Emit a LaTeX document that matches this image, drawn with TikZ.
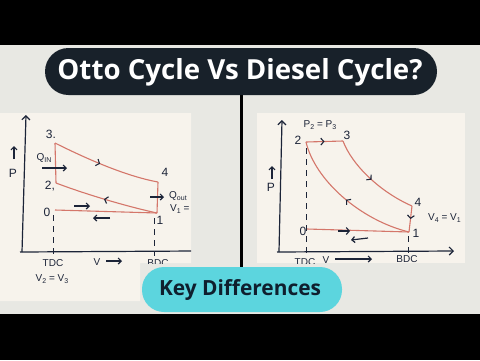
\documentclass[tikz,border=0pt]{standalone}
\usepackage{graphicx}
\usepackage{fontspec}
\setmainfont{Open Sans}
\newfontfamily\hand{Liberation Sans}
\usetikzlibrary{decorations.markings,arrows.meta}
\definecolor{bggray}{HTML}{E8E8E3}
\definecolor{paper}{HTML}{F7F3EC}
\definecolor{titlebg}{HTML}{18212A}
\definecolor{cyanpill}{HTML}{5CD5DE}
\definecolor{keytext}{HTML}{0F1F2E}
\definecolor{redline}{HTML}{D4766A}
\definecolor{ink}{HTML}{1C2438}
\newcommand\sbs[1]{\raisebox{-0.35ex}{\scalebox{0.7}{#1}}}
\tikzset{
  cyc/.style={draw=redline, line width=1.1pt},
  axisline/.style={draw=ink, line width=1.2pt},
  dashline/.style={draw=ink, line width=1pt, dash pattern=on 6pt off 5pt},
  lbl/.style={text=ink, font=\hand\fontsize{12}{12}\selectfont, inner sep=0pt},
  smlbl/.style={text=ink, font=\hand\fontsize{10}{10}\selectfont, inner sep=0pt},
  inkarrow/.style={draw=ink, line width=1.2pt, -{Straight Barb[length=3pt,width=6pt]}},
  midmark/.style={postaction={decorate, decoration={markings, mark=at position #1 with {\arrow[ink, line width=1.1pt]{Straight Barb[length=3pt,width=7pt]}}}}},
  midmarkrev/.style={postaction={decorate, decoration={markings, mark=at position #1 with {\arrowreversed[ink, line width=1.1pt]{Straight Barb[length=3pt,width=7pt]}}}}}
}
\begin{document}
\begin{tikzpicture}[x=1pt,y=-1pt]
\useasboundingbox (0,0) rectangle (480,360);
% backgrounds
\fill[bggray] (0,0) rectangle (480,360);
\fill[black] (0,0) rectangle (480,44.5);
\fill[black] (0,314) rectangle (480,360);
% left paper
\fill[paper] (0,113) -- (191,113) -- (191,263) -- (140,263) -- (140,301) -- (0,301) -- cycle;
% right paper
\fill[paper] (257,113) rectangle (465,263);
% divider
\draw[black, line width=3pt] (241,95) -- (241,268);

% ================= LEFT (Otto) =================
\begin{scope}
\clip (0,113) -- (191,113) -- (191,263) -- (140,263) -- (140,301) -- (0,301) -- cycle;
\coordinate (L3) at (55,143);
\coordinate (L2) at (56,183);
\coordinate (L0) at (55,210);
\coordinate (L1) at (157,213);
\coordinate (L4) at (158,182);
\coordinate (LO) at (22,252);
\coordinate (LYT) at (26,115);
\coordinate (LXE) at (195,251);
\draw[axisline, -{Straight Barb[length=4pt,width=8pt]}] (LO) -- (LYT);
\draw[axisline] ([xshift=-2pt]LO) -- (LXE);
\draw[cyc] (L3) -- (L2);
\draw[cyc, midmark=0.45] (L3) .. controls (85,158) and (125,176) .. (L4);
\draw[cyc] (L4) -- (L1);
\draw[cyc, midmarkrev=0.48] (L2) .. controls (85,194) and (125,206) .. (L1);
\draw[cyc] (L0) -- (L1);
\draw[dashline] (53,215) -- (53,256);
\draw[dashline] (154,218) -- (154,256);
\node[lbl] (n3) at (51,134) {3.};
\node[lbl] (n2) at (50,186) {2,};
\node[lbl] (n0) at (47,212) {0};
\node[lbl] (n1) at (160,220) {1};
\node[lbl] (n4) at (165,172) {4};
\node[smlbl] (qin) at (44,158) {Q\sbs{IN}};
\coordinate (qa) at (42,168);
\coordinate (qb) at (67,168);
\draw[inkarrow] (qa) -- (qb);
\coordinate (qoa) at (150,197);
\coordinate (qob) at (164,197);
\draw[inkarrow] (qoa) -- (qob);
\node[smlbl, anchor=west] (qout) at (169,196) {Q\sbs{out}};
\node[smlbl, anchor=west] (v1) at (170,209) {V\sbs{1} = V\sbs{4}};
\coordinate (la1) at (74,206);
\coordinate (la2) at (90,206);
\draw[inkarrow] (la1) -- (la2);
\coordinate (lb1) at (110,218);
\coordinate (lb2) at (93,218);
\draw[inkarrow] (lb1) -- (lb2);
\node[smlbl] (ltdc) at (53,263) {TDC};
\node[smlbl] (lv) at (97,262) {V};
\coordinate (lva) at (106,261);
\coordinate (lvb) at (122,261);
\draw[inkarrow] (lva) -- (lvb);
\node[smlbl] (lbdc) at (158,263) {BDC};
\node[smlbl] (lv23) at (52,279) {V\sbs{2} = V\sbs{3}};
\coordinate (lpa) at (14,159);
\coordinate (lpb) at (14,146);
\draw[inkarrow] (lpa) -- (lpb);
\node[lbl] (lp) at (13,173) {P};
\end{scope}

% ================= RIGHT (Diesel) =================
\begin{scope}
\clip (257,113) rectangle (465,263);
\coordinate (R2) at (306,142);
\coordinate (R3) at (343,141);
\coordinate (R4) at (412,206);
\coordinate (R1) at (409,232);
\coordinate (R0) at (307,229);
\coordinate (RO) at (279,252);
\coordinate (RYT) at (282,120);
\coordinate (RXE) at (454,251);
\draw[axisline, -{Straight Barb[length=4pt,width=8pt]}] (RO) -- (RYT);
\draw[axisline, -{Straight Barb[length=4pt,width=8pt]}] ([xshift=-2pt]RO) -- (RXE);
\draw[cyc, midmark=0.5] (R2) -- (R3);
\draw[cyc, midmark=0.5] (R3) .. controls (352,165) and (380,192) .. (R4);
\draw[cyc, midmark=0.5] (R4) -- (R1);
\draw[cyc, midmarkrev=0.5] (R2) .. controls (315,180) and (360,220) .. (R1);
\draw[cyc] (R0) -- (R1);
\draw[dashline] (306,148) -- (306,258);
\draw[dashline] (408,236) -- (408,258);
\node[lbl] (m2) at (298,140) {2};
\node[lbl] (m3) at (347,135) {3};
\node[lbl] (m4) at (418,202) {4};
\node[lbl] (m1) at (416,233) {1};
\node[lbl] (m0) at (303,231) {0};
\node[smlbl] (p23) at (320,125) {P\sbs{2} = P\sbs{3}};
\node[smlbl, anchor=west] (v41) at (428,218) {V\sbs{4} = V\sbs{1}};
\coordinate (ra1) at (338,231);
\coordinate (ra2) at (350,231);
\draw[draw=ink, line width=1.1pt, -{Straight Barb[length=3pt,width=7pt]}] (ra1) -- (ra2);
\coordinate (rb1) at (368,238);
\coordinate (rb2) at (351,240);
\draw[inkarrow] (rb1) -- (rb2);
\node[smlbl] (rtdc) at (305,262) {TDC};
\node[smlbl] (rv) at (326,260) {V};
\coordinate (rva) at (335,259);
\coordinate (rvb) at (372,259);
\draw[inkarrow] (rva) -- (rvb);
\node[smlbl] (rbdc) at (407,259) {BDC};
\coordinate (rpa) at (272,179);
\coordinate (rpb) at (272,166);
\draw[inkarrow] (rpa) -- (rpb);
\node[lbl] (rp) at (271,187) {P};
\end{scope}

% title pill
\fill[titlebg, rounded corners=23.5pt] (45,48) rectangle (437,95);
\node[text=white, inner sep=0pt] (title) at (240,72) {\resizebox{365pt}{!}{\bfseries Otto Cycle Vs Diesel Cycle?}};
% key differences pill
\fill[cyanpill, rounded corners=22pt] (142,267) rectangle (342,312);
\node[text=keytext, inner sep=0pt] (key) at (240,290) {\resizebox{162pt}{!}{\bfseries Key Differences}};
\end{tikzpicture}
\end{document}
